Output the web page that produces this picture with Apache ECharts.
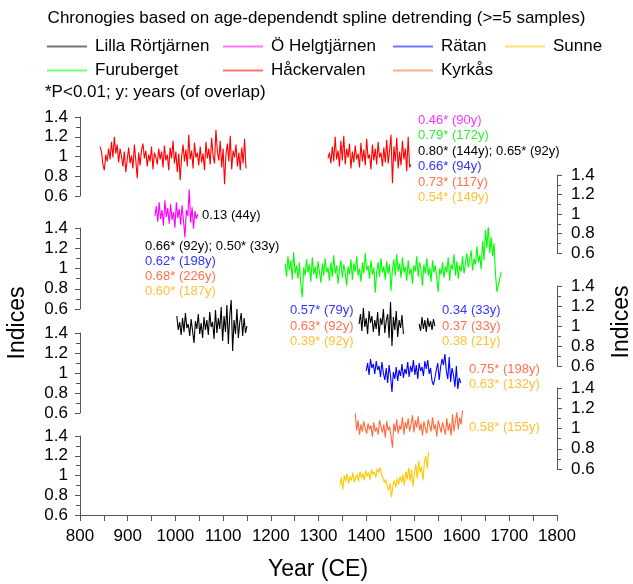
<!DOCTYPE html>
<html>
<head>
<meta charset="utf-8">
<script src="https://cdn.jsdelivr.net/npm/echarts@6/dist/echarts.min.js"></script>
<style>
html, body { margin: 0; padding: 0; background: #fff; }
#chart { width: 633px; height: 584px; }
</style>
</head>
<body>
<div id="chart"></div>
<script>
// one index value every third year
const STEP = 3;

// Håckervalen (two pieces)
const hackervalenAStart = 842;
const hackervalenA = [
  1.10, 1.05, 0.92, 0.86, 1.02, 0.95, 1.08, 0.97, 1.15, 0.99,
  1.20, 1.03, 1.12, 0.94, 1.08, 1.00, 0.90, 1.05, 0.84, 0.97,
  1.09, 0.93, 1.01, 0.88, 1.12, 0.96, 0.78, 1.04, 0.91, 1.07,
  1.13, 0.98, 1.06, 0.90, 1.02, 0.95, 1.10, 0.87, 1.04, 0.99,
  0.92, 1.08, 0.97, 1.05, 0.89, 1.11, 0.96, 1.02, 0.86, 1.09,
  0.98, 1.16, 0.93, 1.05, 0.84, 1.03, 0.76, 1.00, 1.12, 0.95,
  1.07, 0.90, 1.22, 0.97, 1.06, 0.88, 1.14, 0.99, 1.04, 0.91,
  1.10, 0.94, 1.03, 0.86, 1.15, 0.98, 1.08, 0.92, 1.19, 1.01,
  0.93, 1.27, 1.05, 0.96, 1.16, 0.89, 1.08, 0.72, 1.02, 1.13,
  0.95, 1.21, 0.87, 1.06, 0.99, 1.12, 0.90, 1.04, 0.86, 1.09,
  0.93, 1.18, 0.88
];
const hackervalenBStart = 1320;
const hackervalenB = [
  0.98, 1.04, 0.93, 1.10, 0.95, 1.20, 0.97, 1.06, 0.90, 1.16,
  0.96, 1.21, 0.92, 1.08, 0.99, 1.13, 0.88, 1.05, 0.94, 1.11,
  0.97, 1.03, 0.89, 1.14, 0.95, 1.07, 0.91, 1.18, 0.98, 1.02,
  0.87, 1.12, 0.96, 1.08, 0.92, 1.15, 0.99, 1.04, 0.90, 1.09,
  0.94, 1.17, 0.93, 1.06, 1.22, 0.73, 1.10, 0.95, 1.19, 0.88,
  1.05, 0.91, 1.16, 0.97, 1.08, 0.85, 1.20, 0.89, 0.92
];

// Ö Helgtjärnen
const helgtjarnenStart = 957;
const helgtjarnen = [
  0.98, 1.08, 0.92, 1.12, 0.95, 1.04, 0.88, 1.14, 0.97, 1.06,
  0.90, 1.10, 0.94, 1.02, 0.86, 1.12, 0.96, 1.05, 0.89, 1.09,
  0.93, 0.76, 1.04, 0.98, 1.25, 0.91, 1.07, 0.85, 1.03, 0.95,
  1.00
];

// Furuberget
const furubergetStart = 1230;
const furuberget = [
  1.05, 0.92, 1.12, 0.98, 1.08, 0.89, 1.16, 0.95, 1.03, 0.90,
  1.06, 0.84, 0.72, 1.01, 0.93, 1.09, 0.96, 1.04, 0.87, 1.11,
  0.94, 1.02, 0.90, 1.07, 0.97, 0.86, 1.05, 0.93, 1.10, 0.96,
  1.01, 0.88, 1.06, 0.92, 1.13, 0.95, 1.03, 0.85, 0.99, 1.08,
  0.91, 1.04, 0.96, 0.83, 1.02, 0.94, 1.09, 0.89, 1.05, 0.97,
  1.12, 0.93, 1.00, 0.87, 1.06, 0.95, 1.15, 0.98, 1.03, 0.90,
  1.08, 0.94, 1.01, 0.76, 0.97, 1.06, 0.92, 1.10, 0.96, 1.02,
  0.89, 1.07, 0.95, 1.04, 0.78, 0.99, 1.09, 0.93, 1.14, 0.97,
  1.05, 0.91, 1.11, 0.96, 1.02, 0.88, 1.08, 0.94, 1.00, 0.85,
  1.03, 0.97, 1.12, 0.92, 1.06, 0.99, 0.83, 1.04, 0.95, 1.10,
  0.93, 1.01, 0.87, 1.08, 0.96, 1.03, 0.90, 0.77, 1.00, 0.94,
  1.06, 0.91, 1.02, 0.96, 1.11, 0.88, 1.04, 0.99, 1.14, 0.93,
  1.07, 0.90, 1.03, 0.97, 1.12, 0.95, 1.05, 1.15, 1.01, 1.09,
  1.18, 0.98, 1.10, 1.04, 1.22, 1.06, 1.13, 0.99, 1.27, 1.08,
  1.38, 1.20, 1.43, 1.15, 1.31, 1.12, 1.25, 0.95, 0.77, 0.83,
  0.90, 0.97
];

// Lilla Rörtjärnen (three pieces)
const rortjarnenAStart = 1003;
const rortjarnenA = [
  1.10, 0.96, 1.04, 0.91, 1.08, 0.94, 1.13, 0.98, 1.02, 0.90,
  1.07, 0.95, 0.83, 1.05, 0.97, 1.12, 0.92, 1.03, 0.88, 1.09,
  0.96, 1.06, 0.91, 1.14, 0.99, 1.04, 0.87, 1.16, 0.93, 1.08,
  0.97, 1.19, 0.85, 1.10, 0.94, 1.21, 0.82, 1.11, 1.26, 0.75,
  1.06, 0.92, 1.17, 0.88, 1.04, 1.13, 0.90, 1.08, 0.93, 1.00
];
const rortjarnenBStart = 1385;
const rortjarnenB = [
  1.02, 1.12, 0.95, 1.18, 0.99, 1.08, 0.92, 1.15, 1.03, 1.10,
  0.94, 1.06, 0.97, 1.14, 0.90, 1.08, 1.01, 1.17, 0.93, 1.05,
  1.12, 0.88, 1.24, 0.80, 1.09, 0.96, 1.15, 0.89, 1.06, 0.98,
  1.11, 0.92
];
const rortjarnenCStart = 1511;
const rortjarnenC = [
  1.02, 0.95, 1.09, 0.97, 1.06, 0.94, 1.08, 0.99, 1.05, 0.96, 1.07, 1.00
];

// Rätan
const ratanStart = 1400;
const ratan = [
  1.02, 1.10, 0.98, 1.14, 1.05, 1.09, 0.99, 1.12, 1.03, 1.07,
  0.96, 1.11, 1.00, 0.93, 1.05, 0.90, 1.08, 0.97, 0.81, 1.01,
  0.94, 1.06, 0.92, 1.03, 0.97, 1.09, 0.95, 1.04, 0.99, 1.11,
  0.96, 1.07, 1.01, 1.13, 0.98, 1.08, 0.94, 1.10, 1.02, 1.06,
  0.97, 1.12, 1.04, 1.13, 0.99, 1.05, 0.92, 0.88, 0.95, 1.03,
  1.10, 0.93, 1.06, 1.14, 1.08, 1.19, 1.02, 0.94, 1.16, 0.91,
  1.05, 0.98, 0.86, 1.07, 0.84, 0.95, 0.90
];

// Kyrkås
const kyrkasStart = 1377;
const kyrkas = [
  1.15, 0.98, 1.08, 0.94, 1.04, 0.97, 1.07, 1.00, 0.95, 1.05,
  0.99, 1.03, 0.92, 1.06, 0.97, 1.01, 0.94, 1.08, 1.02, 0.96,
  1.04, 0.91, 1.07, 0.98, 1.02, 0.93, 0.81, 1.05, 0.97, 1.09,
  0.95, 1.03, 0.99, 1.11, 0.94, 1.06, 1.00, 1.10, 0.97, 1.04,
  1.13, 0.96, 1.08, 1.01, 1.12, 0.98, 1.05, 0.93, 1.07, 1.00,
  0.95, 1.09, 1.03, 0.97, 1.11, 0.99, 1.04, 0.92, 1.08, 1.02,
  0.96, 1.06, 1.00, 0.94, 1.10, 0.98, 1.05, 0.93, 1.14, 0.97,
  1.07, 1.16, 0.99, 1.11, 1.04, 1.18
];

// Sunne
const sunneStart = 1345;
const sunne = [
  0.90, 0.98, 0.86, 1.00, 0.94, 1.02, 0.92, 0.99, 0.95, 1.03,
  0.93, 0.98, 1.01, 0.94, 1.04, 0.97, 1.02, 0.95, 1.05, 0.99,
  1.03, 0.96, 1.06, 1.01, 1.04, 0.98, 1.07, 1.03, 1.08, 1.01,
  0.98, 0.93, 0.96, 0.89, 0.85, 0.92, 0.78, 0.90, 0.95, 0.88,
  0.97, 0.91, 0.99, 0.93, 1.01, 0.90, 1.04, 0.96, 1.08, 0.94,
  1.06, 0.89, 1.02, 1.11, 0.97, 1.15, 1.03, 1.09, 0.95, 1.13,
  1.20, 1.07, 1.24
];

const colors = {
  'Lilla Rörtjärnen': '#000000',
  'Ö Helgtjärnen': '#ff00ff',
  'Rätan': '#0000ff',
  'Sunne': '#ffc800',
  'Furuberget': '#00ff00',
  'Håckervalen': '#ff0000',
  'Kyrkås': '#ff6a3d'
};

// stacked panels, top to bottom
const panels = [
  {top: 117, height: 79, side: 'left'},
  {top: 175, height: 78, side: 'right'},
  {top: 228, height: 81, side: 'left'},
  {top: 286, height: 80, side: 'right'},
  {top: 333, height: 80, side: 'left'},
  {top: 388, height: 81, side: 'right'},
  {top: 436, height: 79, side: 'left'}
];

function toPairs(start, values) {
  return values.map((v, i) => [start + i * STEP, v]);
}

const pieces = [
  {name: 'Håckervalen', panel: 0, data: toPairs(hackervalenAStart, hackervalenA)},
  {name: 'Håckervalen', panel: 0, data: toPairs(hackervalenBStart, hackervalenB)},
  {name: 'Ö Helgtjärnen', panel: 1, data: toPairs(helgtjarnenStart, helgtjarnen)},
  {name: 'Furuberget', panel: 2, data: toPairs(furubergetStart, furuberget)},
  {name: 'Lilla Rörtjärnen', panel: 3, data: toPairs(rortjarnenAStart, rortjarnenA)},
  {name: 'Lilla Rörtjärnen', panel: 3, data: toPairs(rortjarnenBStart, rortjarnenB)},
  {name: 'Lilla Rörtjärnen', panel: 3, data: toPairs(rortjarnenCStart, rortjarnenC)},
  {name: 'Rätan', panel: 4, data: toPairs(ratanStart, ratan)},
  {name: 'Kyrkås', panel: 5, data: toPairs(kyrkasStart, kyrkas)},
  {name: 'Sunne', panel: 6, data: toPairs(sunneStart, sunne)}
];

const FONT = '"Liberation Sans", Arial, sans-serif';
const axisGray = '#555';

// legend slots: two rows
const legendSlots = [
  ['Lilla Rörtjärnen', 42, 33], ['Ö Helgtjärnen', 218, 33], ['Rätan', 388, 33], ['Sunne', 500, 33],
  ['Furuberget', 42, 57], ['Håckervalen', 218, 57], ['Kyrkås', 388, 57]
];

// correlation notes: [text, colour, x, y]
const notes = [
  ['0.46* (90y)', '#ff33ff', 418, 120],
  ['0.79* (172y)', '#33ee33', 418, 135],
  ['0.80* (144y); 0.65* (92y)', '#000', 418, 151],
  ['0.66* (94y)', '#3333ff', 418, 166],
  ['0.73* (117y)', '#ff7350', 418, 182],
  ['0.54* (149y)', '#ffc233', 418, 197],
  ['0.13 (44y)', '#000', 202, 215],
  ['0.66* (92y); 0.50* (33y)', '#000', 145, 246],
  ['0.62* (198y)', '#3333ff', 145, 261],
  ['0.68* (226y)', '#ff7350', 145, 276],
  ['0.60* (187y)', '#ffc233', 145, 291],
  ['0.57* (79y)', '#3333ff', 290, 310],
  ['0.63* (92y)', '#ff7350', 290, 326],
  ['0.39* (92y)', '#ffc233', 290, 341],
  ['0.34 (33y)', '#3333ff', 442, 310],
  ['0.37 (33y)', '#ff7350', 442, 326],
  ['0.38 (21y)', '#ffc233', 442, 341],
  ['0.75* (198y)', '#ff7350', 469, 369],
  ['0.63* (132y)', '#ffc233', 469, 384],
  ['0.58* (155y)', '#ffc233', 469, 427]
];

const chart = echarts.init(document.getElementById('chart'));

const option = {
  animation: false,
  backgroundColor: '#fff',
  textStyle: {fontFamily: FONT},
  title: {
    text: 'Chronogies based on age-dependendt spline detrending (>=5 samples)',
    left: 'center',
    top: 5,
    textStyle: {fontSize: 17, fontWeight: 'normal', color: '#000', fontFamily: FONT}
  },
  legend: legendSlots.map(([name, left, top]) => ({
    data: [name],
    left: left,
    top: top,
    icon: 'rect',
    itemWidth: 40,
    itemHeight: 2,
    selectedMode: false,
    itemStyle: {opacity: 0.55},
    textStyle: {fontSize: 17, color: '#000', fontFamily: FONT, padding: [0, 0, 0, 3]}
  })),
  grid: panels.map(p => ({left: 80, width: 477, top: p.top, height: p.height})),
  xAxis: panels.map((p, i) => ({
    gridIndex: i,
    type: 'value',
    min: 800,
    max: 1800,
    interval: 100,
    show: i === panels.length - 1,
    axisLine: {lineStyle: {color: axisGray}},
    axisTick: {length: 6, lineStyle: {color: axisGray}},
    minorTick: {show: true, splitNumber: 2, length: 6, lineStyle: {color: axisGray}},
    splitLine: {show: false},
    axisLabel: {fontSize: 17, color: '#000', margin: 13, fontFamily: FONT, formatter: v => String(v)}
  })),
  yAxis: panels.map((p, i) => ({
    gridIndex: i,
    type: 'value',
    position: p.side,
    min: 0.6,
    max: 1.4,
    interval: 0.2,
    axisLine: {show: true, lineStyle: {color: axisGray}},
    axisTick: {show: true, length: 5, lineStyle: {color: axisGray}},
    minorTick: {show: true, splitNumber: 2, length: 4, lineStyle: {color: axisGray}},
    splitLine: {show: false},
    axisLabel: {
      fontSize: 17, color: '#000', fontFamily: FONT,
      margin: p.side === 'left' ? 12 : 14,
      formatter: v => String(Math.round(v * 10) / 10)
    }
  })),
  series: pieces.map(s => ({
    name: s.name,
    type: 'line',
    xAxisIndex: s.panel,
    yAxisIndex: s.panel,
    symbol: 'none',
    color: colors[s.name],
    lineStyle: {width: 1.1, color: colors[s.name]},
    data: s.data
  })),
  graphic: [
    {type: 'text', x: 45, y: 92, style: {text: '*P<0.01; y: years (of overlap)', font: '17px ' + FONT, fill: '#000', verticalAlign: 'middle'}},
    {type: 'text', x: 318, y: 570, style: {text: 'Year (CE)', font: '23px ' + FONT, fill: '#000', align: 'center', verticalAlign: 'middle'}},
    {type: 'text', x: 18, y: 323, rotation: Math.PI / 2, style: {text: 'Indices', font: '23px ' + FONT, fill: '#000', align: 'center', verticalAlign: 'middle'}},
    {type: 'text', x: 622, y: 322, rotation: Math.PI / 2, style: {text: 'Indices', font: '23px ' + FONT, fill: '#000', align: 'center', verticalAlign: 'middle'}}
  ].concat(notes.map(([text, fill, x, y]) => ({
    type: 'text', x: x, y: y,
    style: {text: text, font: '13px ' + FONT, fill: fill, verticalAlign: 'middle'}
  })))
};

chart.setOption(option);
</script>
</body>
</html>
